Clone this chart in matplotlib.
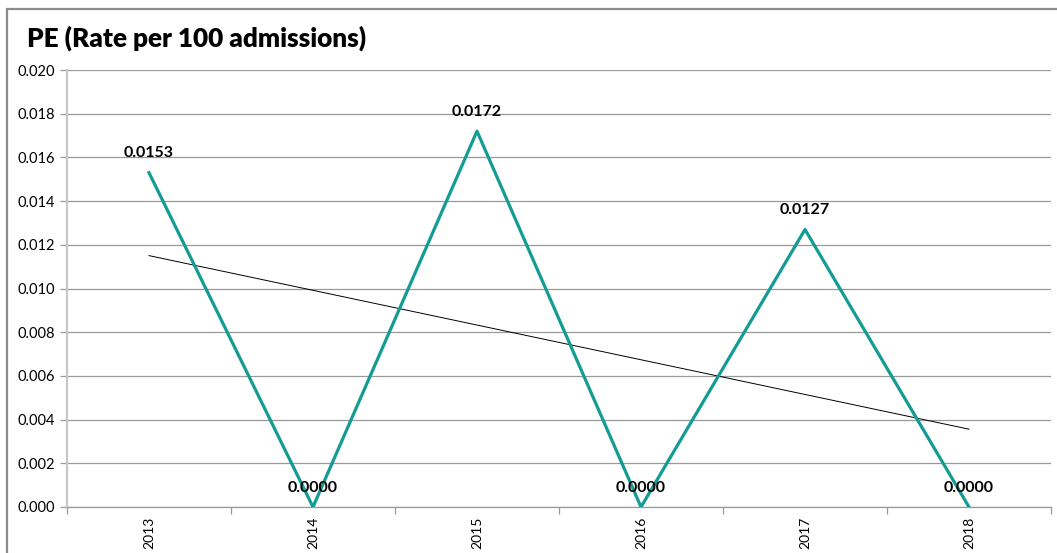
import matplotlib.pyplot as plt
import numpy as np
from matplotlib.patches import Rectangle

years = ["2013", "2014", "2015", "2016", "2017", "2018"]
rates = [0.0153, 0.0000, 0.0172, 0.0000, 0.0127, 0.0000]
y_ticks = [0.000, 0.002, 0.004, 0.006, 0.008, 0.010, 0.012, 0.014, 0.016, 0.018, 0.020]

LINE_COLOR = "#139c94"
GRID_COLOR = "#999999"

plt.rcParams["font.family"] = ["Lato", "DejaVu Sans"]

fig = plt.figure(figsize=(10.57, 5.53), dpi=100)
W, H = 1057, 553

# chart frame
fig.patches.append(Rectangle((7 / W, -0.05), 1.1, 1 - 9 / H + 0.05, transform=fig.transFigure,
                             fill=False, edgecolor="#8c8c8c", linewidth=1.6, zorder=0))

ax = fig.add_axes([67 / W, 1 - 507 / H, (1051 - 67) / W, (507 - 70) / H])

x = np.arange(len(years))
ax.plot(x, rates, color=LINE_COLOR, linewidth=2.3, zorder=3)

# linear trendline
slope, intercept = np.polyfit(x, rates, 1)
ax.plot(x, slope * x + intercept, color="black", linewidth=0.7, zorder=2)

for xi, v in zip(x, rates):
    ax.annotate(f"{v:.4f}", (xi, v), xytext=(0, 9), textcoords="offset points",
                ha="center", va="bottom", fontsize=11.5, fontweight="bold", zorder=4)

ax.set_xlim(-0.5, len(years) - 0.5)
ax.set_ylim(0, 0.020)
ax.set_yticks(y_ticks)
ax.set_yticklabels([f"{t:.3f}" for t in y_ticks], fontsize=10.5)
ax.yaxis.grid(True, color=GRID_COLOR, linewidth=0.9)
ax.set_axisbelow(True)

ax.set_xticks(x)
ax.set_xticklabels(years, rotation=90, fontsize=10)
ax.tick_params(axis="x", which="major", length=0, pad=7)
ax.set_xticks(np.arange(-0.5, len(years)), minor=True)
ax.tick_params(axis="x", which="minor", length=5, color=GRID_COLOR, width=0.9)
ax.tick_params(axis="y", length=5, color=GRID_COLOR, width=0.9, pad=4)

for side in ("top", "right"):
    ax.spines[side].set_visible(False)
ax.spines["left"].set_color("#c8c8c8")
ax.spines["left"].set_linewidth(1.6)
ax.spines["bottom"].set_color(GRID_COLOR)
ax.spines["bottom"].set_linewidth(0.9)

fig.text(27 / W, 1 - 38 / H, "PE (Rate per 100 admissions)", fontsize=18.8, fontweight="heavy",
         ha="left", va="center")

fig.savefig("out.png", dpi=100)
